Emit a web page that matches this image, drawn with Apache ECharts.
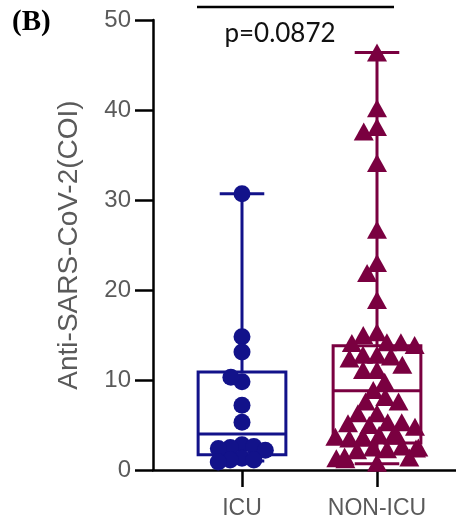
<!DOCTYPE html>
<html>
<head>
<meta charset="utf-8">
<script src="https://cdn.jsdelivr.net/npm/echarts@6/dist/echarts.min.js"></script>
<style>html,body{margin:0;padding:0;background:#fff}#c{width:456px;height:520px}</style>
</head>
<body>
<div id="c"></div>
<script>
// ---- data ----
const categories = ['ICU', 'NON-ICU'];
const icuValues = [30.7, 14.8, 13.1, 9.8, 10.3, 7.2, 5.3, 2.8, 2.5, 2.6, 2.2, 2.4, 1.3, 1.1, 1.1, 0.9];
const nonIcuValues = [46.4, 40.2, 38.1, 37.6, 34.1, 26.7, 23.0, 21.9, 18.9,
  15.3, 15.0, 14.2, 14.2, 14.1, 13.9, 12.8, 12.8, 12.6, 12.4, 11.7, 11.1, 11.1, 9.8, 8.9,
  8.1, 7.6, 7.6, 6.3, 6.3, 5.3, 5.3, 5.2, 5.0, 4.8,
  3.9, 3.6, 3.8, 3.5, 3.7, 3.9, 3.6,
  2.5, 2.3, 2.6, 2.2, 2.4, 2.5,
  1.5, 1.3, 1.4, 1.2, 0.8];
// box stats: [min, Q1, median, Q3, max]
const icuBox = [1.0, 1.7, 4.0, 10.9, 30.7];
const nonIcuBox = [0.7, 3.0, 8.8, 13.8, 46.4];
const yMin = 0, yMax = 50, yInterval = 10;
const pText = 'p=0.0872';
const yName = 'Anti-SARS-CoV-2(COI)';

const colors = ['#12128a', '#7a0040'];

const chart = echarts.init(document.getElementById('c'), null, {renderer: 'canvas'});

const boxData = [[0].concat(icuBox), [1].concat(nonIcuBox)];

const option = {
  backgroundColor: '#fff',
  animation: false,
  grid: [
    {left: 153, right: 0, top: 20, bottom: 50},
    {left: 174.5, right: 11.5, top: 20, bottom: 50}
  ],
  xAxis: [
    {type: 'value', gridIndex: 0, min: 0, max: 1,
     axisLine: {show: true, lineStyle: {color: '#000', width: 2.5}},
     axisTick: {show: false}, axisLabel: {show: false}, splitLine: {show: false}},
    {type: 'category', gridIndex: 1, data: categories,
     jitter: 84, jitterOverlap: false, jitterMargin: -5,
     axisLine: {show: false},
     axisTick: {show: true, alignWithLabel: true, length: 17, lineStyle: {color: '#000', width: 2.5}},
     axisLabel: {fontFamily: 'Liberation Sans, Arial', fontSize: 23, color: '#5a5a5a', margin: 27},
     splitLine: {show: false}}
  ],
  yAxis: [
    {type: 'value', gridIndex: 0, min: yMin, max: yMax, interval: yInterval,
     name: yName, nameLocation: 'middle', nameGap: 70, nameRotate: 90,
     nameTextStyle: {fontFamily: 'Liberation Sans, Arial', fontSize: 28, color: '#5a5a5a'},
     axisLine: {show: true, lineStyle: {color: '#000', width: 2.5}},
     axisTick: {show: true, length: 18, lineStyle: {color: '#000', width: 2.5}},
     axisLabel: {fontFamily: 'Liberation Sans, Arial', fontSize: 24, color: '#5a5a5a', margin: 22},
     splitLine: {show: false}},
    {type: 'value', gridIndex: 1, min: yMin, max: yMax, interval: yInterval, show: false,
     splitLine: {show: false}}
  ],
  graphic: [
    {type: 'text', left: 12, top: 8, style: {text: '(B)', font: 'bold 29px "Liberation Serif", "Times New Roman", serif', fill: '#000'}},
    {type: 'line', shape: {x1: 197, y1: 7, x2: 394, y2: 7}, style: {stroke: '#000', lineWidth: 2.5}},
    {type: 'text', x: 280, y: 34, style: {text: pText, font: '26px Lato, "Open Sans", sans-serif', fill: '#111', align: 'center', verticalAlign: 'middle'}}
  ],
  series: [
    {
      type: 'custom', xAxisIndex: 1, yAxisIndex: 1, z: 2,
      data: boxData,
      encode: {x: 0, y: [1, 2, 3, 4, 5]},
      renderItem: function (params, api) {
        const i = api.value(0);
        const pMin = api.coord([i, api.value(1)]);
        const pQ1 = api.coord([i, api.value(2)]);
        const pMed = api.coord([i, api.value(3)]);
        const pQ3 = api.coord([i, api.value(4)]);
        const pMax = api.coord([i, api.value(5)]);
        const band = api.size([1, 0])[0];
        const bw = band * 0.65, cw = band * 0.33;
        const x = pMed[0];
        const c = colors[i];
        const ls = {stroke: c, lineWidth: 3, fill: null};
        return {
          type: 'group',
          children: [
            {type: 'line', shape: {x1: x, y1: pQ3[1], x2: x, y2: pMax[1]}, style: ls},
            {type: 'line', shape: {x1: x, y1: pQ1[1], x2: x, y2: pMin[1]}, style: ls},
            {type: 'line', shape: {x1: x - cw / 2, y1: pMax[1], x2: x + cw / 2, y2: pMax[1]}, style: ls},
            {type: 'line', shape: {x1: x - cw / 2, y1: pMin[1], x2: x + cw / 2, y2: pMin[1]}, style: ls},
            {type: 'rect', shape: {x: x - bw / 2, y: pQ3[1], width: bw, height: pQ1[1] - pQ3[1]}, style: {stroke: c, lineWidth: 3, fill: 'transparent'}},
            {type: 'line', shape: {x1: x - bw / 2, y1: pMed[1], x2: x + bw / 2, y2: pMed[1]}, style: ls}
          ]
        };
      }
    },
    {
      type: 'scatter', xAxisIndex: 1, yAxisIndex: 1, z: 3,
      symbol: 'circle', symbolSize: 17,
      itemStyle: {color: colors[0], opacity: 1},
      data: icuValues.map(v => [0, v])
    },
    {
      type: 'scatter', xAxisIndex: 1, yAxisIndex: 1, z: 3,
      symbol: 'triangle', symbolSize: [20, 18],
      itemStyle: {color: colors[1], opacity: 1},
      data: nonIcuValues.map(v => [1, v])
    }
  ]
};
chart.setOption(option);
</script>
</body>
</html>
